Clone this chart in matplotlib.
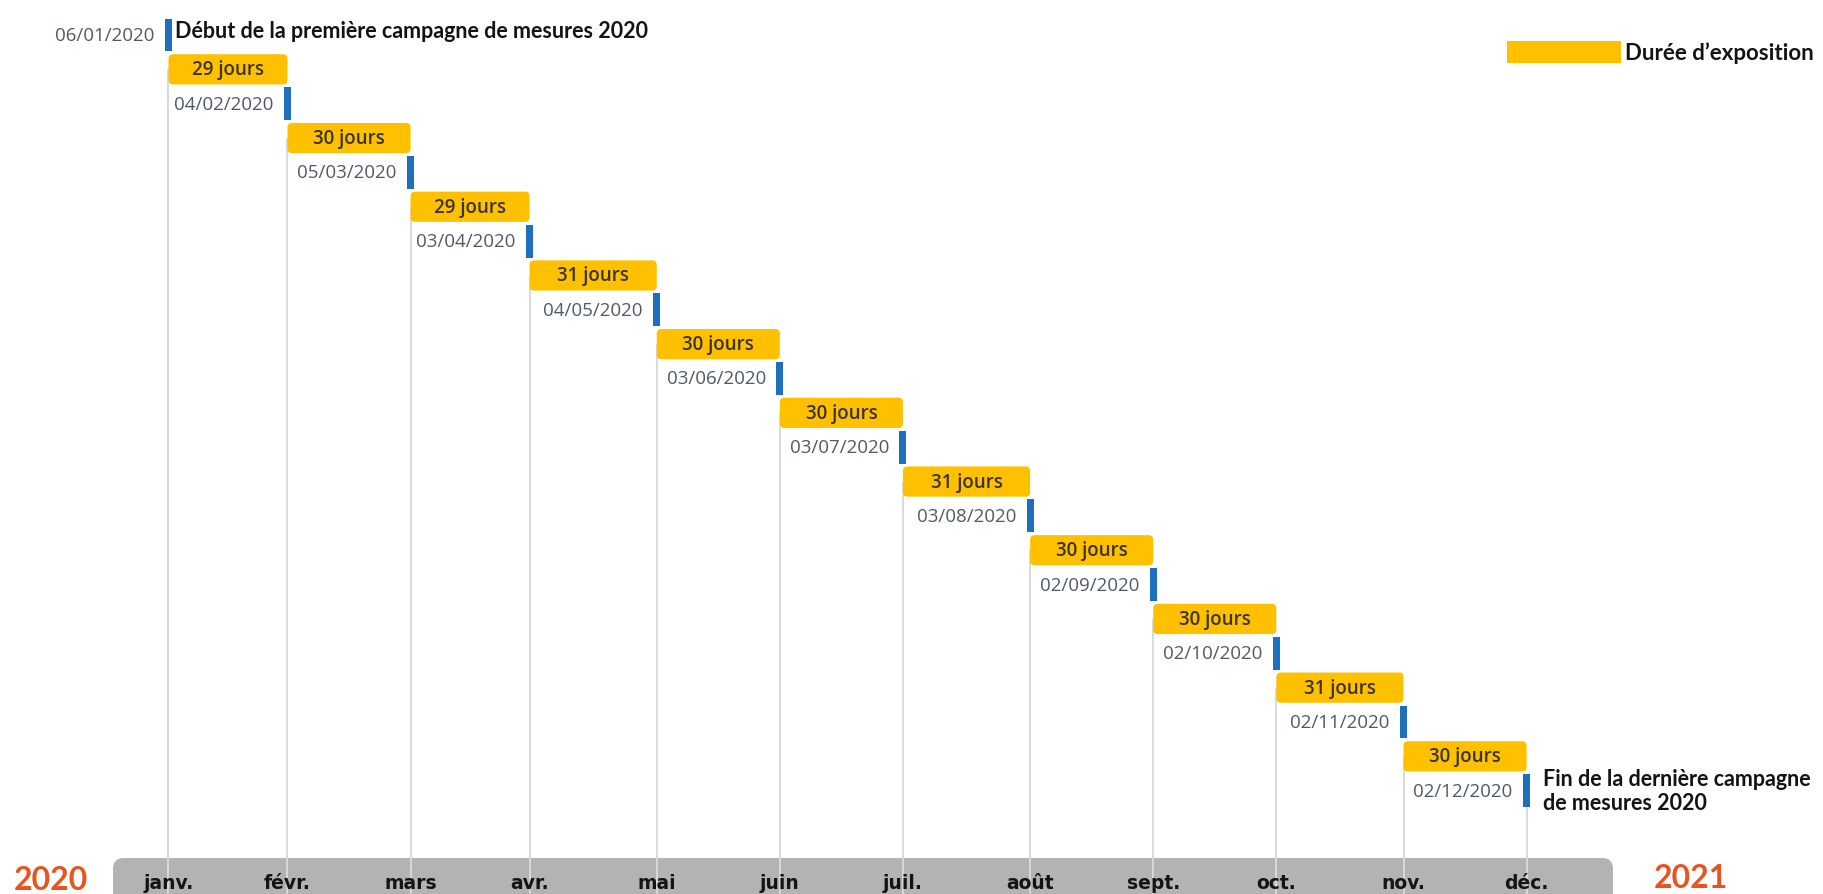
import numpy as np
import pandas as pd
import matplotlib
matplotlib.use("Agg")
import matplotlib.pyplot as plt
import matplotlib.dates as mdates
from matplotlib.patches import FancyBboxPatch, Patch

# ---------------- data ----------------
dates = ["06/01/2020", "04/02/2020", "05/03/2020", "03/04/2020", "04/05/2020",
         "03/06/2020", "03/07/2020", "03/08/2020", "02/09/2020", "02/10/2020",
         "02/11/2020", "02/12/2020"]
durations = [29, 30, 29, 31, 30, 30, 31, 30, 30, 31, 30]
months = ["janv.", "févr.", "mars", "avr.", "mai", "juin", "juil.", "août",
          "sept.", "oct.", "nov.", "déc."]
legend_label = "Durée d\u2019exposition"
start_note = "Début de la première campagne de mesures 2020"
end_note = "Fin de la dernière campagne\nde mesures 2020"
year_left = "2020"
year_right = "2021"

# ---------------- style ----------------
YELLOW = "#FFC000"
BLUE = "#1F6FBF"
DATE_COLOR = "#505A66"
GRID = "#D9D9D9"
BAND = "#B3B3B3"
ORANGE = "#E8531F"
DARK = "#141414"

x = mdates.date2num(pd.to_datetime(dates, format="%d/%m/%Y"))
rows = np.arange(len(dates))

W, H = 1823, 895
fig = plt.figure(figsize=(W / 100, H / 100), dpi=100)
ax = fig.add_axes([0, 0, 1, 1])
px_per_day = 4.103
px_per_row = 68.7
x_lo = x[0] - 168.5 / px_per_day
ax.set_xlim(x_lo, x_lo + W / px_per_day)
y_top = -36 / px_per_row
ax.set_ylim(y_top + H / px_per_row, y_top)
ax.axis("off")
aspect = (1 / px_per_row) / (1 / px_per_day)

band_y = 11.98
# bottom grey band
band = FancyBboxPatch((x_lo + 113 / px_per_day, band_y), 1500 / px_per_day, 1.5,
                      boxstyle="round,pad=0,rounding_size=2.6", mutation_aspect=aspect,
                      fc=BAND, ec="none", zorder=1)
ax.add_patch(band)

# vertical guide lines
ax.vlines(x, np.minimum(rows + 0.5, rows[-1]), y_top + H / px_per_row,
          colors=GRID, lw=1.4, zorder=2)

# exposure bars
bar_h = 0.44
for i, d in enumerate(durations):
    yc = rows[i] + 0.5
    p = FancyBboxPatch((x[i], yc - bar_h / 2), x[i + 1] - x[i], bar_h,
                       boxstyle="round,pad=0,rounding_size=1.1", mutation_aspect=aspect,
                       fc=YELLOW, ec="none", zorder=3)
    ax.add_patch(p)
    ax.text((x[i] + x[i + 1]) / 2, yc, f"{d} jours", ha="center", va="center",
            fontsize=13.5, family="Open Sans", fontweight="semibold",
            color="#3B3428", zorder=5)

# date markers
ax.bar(x, 0.48, width=1.7, bottom=rows - 0.24, color=BLUE, zorder=4)
for xi, r, d in zip(x, rows, dates):
    ax.annotate(d, (xi, r), xytext=(-10, 0), textcoords="offset points",
                ha="right", va="center", fontsize=13.5, family="Open Sans",
                color=DATE_COLOR, zorder=5)

# notes
ax.annotate(start_note, (x[0], rows[0]), xytext=(5, 3), textcoords="offset points",
            ha="left", va="center", fontsize=15.5, family="Lato", fontweight="bold",
            color=DARK)
ax.annotate(end_note, (x[-1], rows[-1]), xytext=(12, 0), textcoords="offset points",
            ha="left", va="center", fontsize=15.5, family="Lato", fontweight="bold",
            color=DARK, linespacing=1.15)

# month labels on band
for xi, m in zip(x, months):
    ax.text(xi, 12.33, m, ha="center", va="center", fontsize=13.5,
            family="DejaVu Sans", fontweight="bold", color=DARK, zorder=5)

# year labels
ax.text(x_lo + 51 / px_per_day, 12.29, year_left, ha="center", va="center",
        fontsize=23, family="Lato", fontweight="bold", color=ORANGE)
ax.text(x_lo + 1691 / px_per_day, 12.26, year_right, ha="center", va="center",
        fontsize=23, family="Lato", fontweight="bold", color=ORANGE)

# legend
ax.legend(handles=[Patch(facecolor=YELLOW, edgecolor="none", label=legend_label)],
          loc="upper right", bbox_to_anchor=(1814 / W, 1 - 41.5 / H),
          frameon=False, prop={"family": "Lato", "weight": "bold", "size": 16},
          labelcolor=DARK, handlelength=5.1, handleheight=1.2, handletextpad=0.2,
          borderpad=0, borderaxespad=0)

fig.savefig("out.png", dpi=100)
